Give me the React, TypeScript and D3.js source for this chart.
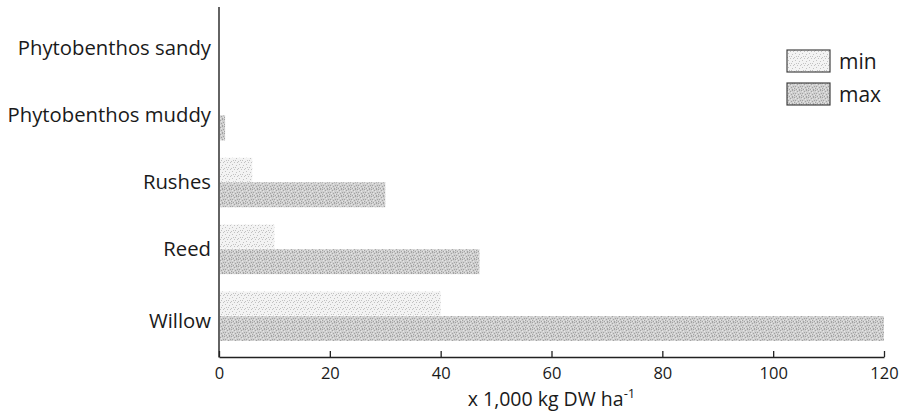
import React, { useEffect, useRef } from 'react';
import * as d3 from 'd3';

const categories = ['Phytobenthos sandy', 'Phytobenthos muddy', 'Rushes', 'Reed', 'Willow'];
const minValues = [0, 0, 6, 10, 40];
const maxValues = [0, 1.1, 30, 47, 120];
const xTicks = [0, 20, 40, 60, 80, 100, 120];
const legendLabels = ['min', 'max'];

const W = 902;
const H = 412;
const FONT = '"Open Sans", sans-serif';

function App() {
  const ref = useRef<SVGSVGElement>(null);

  useEffect(() => {
    const svg = d3.select(ref.current);
    svg.selectAll('*').remove();

    // stipple textures for the two series
    const defs = svg.append('defs');
    const light = defs.append('pattern').attr('id', 'pMin').attr('patternUnits', 'userSpaceOnUse')
      .attr('width', 7).attr('height', 7);
    light.append('rect').attr('width', 7).attr('height', 7).attr('fill', '#f3f3f3');
    [[0, 0], [3, 1], [1, 3], [5, 4], [6, 1], [2, 6], [4, 6]].forEach(([a, b]) =>
      light.append('rect').attr('x', a).attr('y', b).attr('width', 1).attr('height', 1).attr('fill', '#c2c2c2'));
    const dark = defs.append('pattern').attr('id', 'pMax').attr('patternUnits', 'userSpaceOnUse')
      .attr('width', 7).attr('height', 7);
    dark.append('rect').attr('width', 7).attr('height', 7).attr('fill', '#cfcfcf');
    [[0, 0], [3, 1], [5, 0], [1, 3], [6, 3], [4, 4], [0, 5], [2, 6], [5, 6]].forEach(([a, b]) =>
      dark.append('rect').attr('x', a).attr('y', b).attr('width', 1).attr('height', 1).attr('fill', '#a2a2a2'));
    [[1, 1], [4, 2], [6, 5], [2, 4], [3, 6]].forEach(([a, b]) =>
      dark.append('rect').attr('x', a).attr('y', b).attr('width', 1).attr('height', 1).attr('fill', '#e6e6e6'));

    const x = d3.scaleLinear().domain([0, 120]).range([219, 884]);
    const y = d3.scalePoint<string>().domain(categories).range([48, 315.5]);
    const barH = 24;

    const g = svg.append('g');

    g.selectAll('.bmin').data(categories).enter().append('rect')
      .attr('class', 'bmin')
      .attr('x', x(0) + 1)
      .attr('y', (d) => (y(d) as number) - barH)
      .attr('width', (d, i) => Math.max(0, x(minValues[i]) - x(0) - 1))
      .attr('height', barH)
      .attr('fill', 'url(#pMin)');

    g.selectAll('.bmax').data(categories).enter().append('rect')
      .attr('class', 'bmax')
      .attr('x', x(0) + 1)
      .attr('y', (d) => (y(d) as number) + 0.5)
      .attr('width', (d, i) => Math.max(0, x(maxValues[i]) - x(0) - 1))
      .attr('height', barH + 1)
      .attr('fill', 'url(#pMax)');

    // x axis, ticks pointing up
    const xAxis = d3.axisBottom(x).tickValues(xTicks).tickSize(-6).tickSizeOuter(0).tickPadding(10);
    const ax = svg.append('g').attr('transform', 'translate(0,357)').call(xAxis);
    ax.select('.domain').attr('stroke', '#222').attr('stroke-width', 1.3);
    ax.selectAll('.tick line').attr('stroke', '#222').attr('stroke-width', 1.3);
    ax.selectAll('.tick text').attr('fill', '#1a1a1a').style('font-family', FONT).style('font-size', '16.5px');

    // y axis line
    svg.append('line').attr('x1', x(0)).attr('x2', x(0)).attr('y1', 7).attr('y2', 357.6)
      .attr('stroke', '#222').attr('stroke-width', 1.4);

    // category labels
    svg.selectAll('.cat').data(categories).enter().append('text')
      .attr('class', 'cat')
      .attr('x', 211)
      .attr('y', (d) => (y(d) as number) + (d === 'Willow' ? 5 : 0))
      .attr('dy', '0.36em')
      .attr('text-anchor', 'end')
      .attr('fill', '#1a1a1a')
      .style('font-family', FONT)
      .style('font-size', '20.3px')
      .text((d) => d);

    // axis title
    const t = svg.append('text').attr('x', (x(0) + x(120)) / 2).attr('y', 406)
      .attr('text-anchor', 'middle').attr('fill', '#1a1a1a')
      .style('font-family', FONT).style('font-size', '19.5px');
    t.append('tspan').text('x 1,000 kg DW ha');
    t.append('tspan').attr('dy', -8).style('font-size', '13px').text('-1');

    // legend
    const lg = svg.append('g').selectAll('g').data(legendLabels).enter().append('g')
      .attr('transform', (d, i) => `translate(787,${50 + i * 33})`);
    lg.append('rect').attr('width', 43).attr('height', 22)
      .attr('fill', (d, i) => (i === 0 ? 'url(#pMin)' : 'url(#pMax)'))
      .attr('stroke', '#444').attr('stroke-width', 1.2);
    lg.append('text').attr('x', 52).attr('y', 19).attr('fill', '#1a1a1a')
      .style('font-family', FONT).style('font-size', '21px').text((d) => d);
  }, []);

  return (
    <svg ref={ref} width={W} height={H}
      style={{ position: 'absolute', left: 0, top: 0, background: '#fff' }} />
  );
}

export default App;
